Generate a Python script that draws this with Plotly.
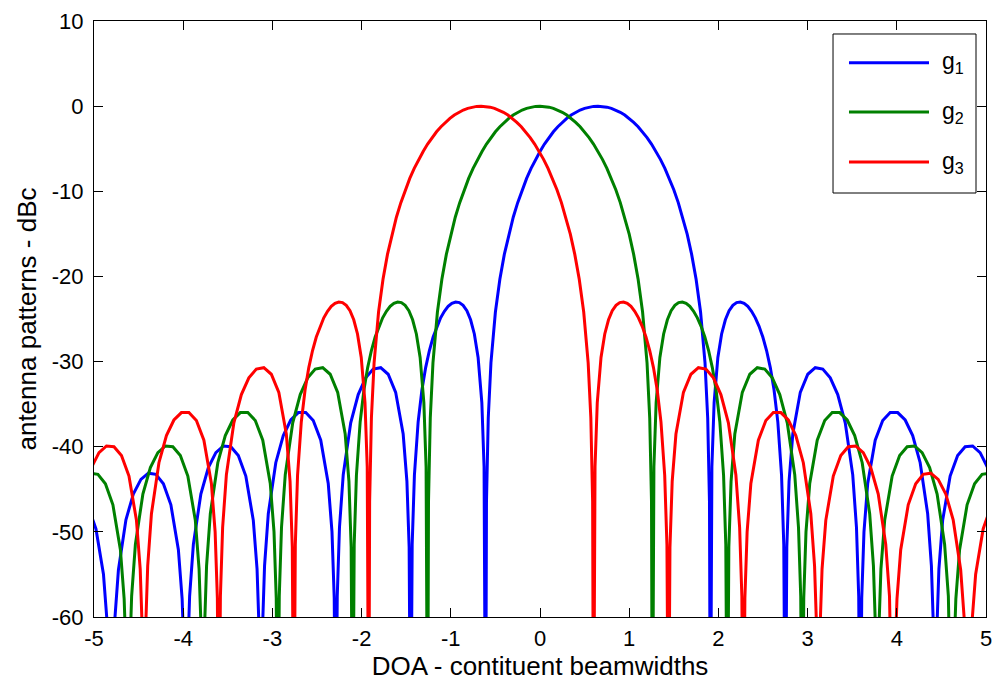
import plotly.graph_objects as go

# Beam pattern shape: offset from beam centre
# (constituent beamwidths) and level (dBc). Nulls fall below the -60 dB floor.
pattern_offset = [
    -5.796, -5.712, -5.628, -5.544, -5.502, -5.477, -5.460, -5.443, -5.418, -5.376,
    -5.292, -5.208, -5.124, -5.040, -4.956, -4.872, -4.788, -4.704, -4.662, -4.637,
    -4.620, -4.603, -4.578, -4.536, -4.452, -4.368, -4.284, -4.200, -4.116, -4.032,
    -3.948, -3.864, -3.822, -3.797, -3.780, -3.763, -3.738, -3.696, -3.612, -3.528,
    -3.444, -3.360, -3.276, -3.192, -3.108, -3.024, -2.982, -2.957, -2.940, -2.923,
    -2.898, -2.856, -2.772, -2.688, -2.604, -2.520, -2.436, -2.352, -2.268, -2.184,
    -2.142, -2.117, -2.100, -2.083, -2.058, -2.016, -1.974, -1.932, -1.890, -1.848,
    -1.806, -1.764, -1.722, -1.680, -1.638, -1.596, -1.554, -1.512, -1.470, -1.428,
    -1.386, -1.344, -1.302, -1.277, -1.260, -1.250, -1.230, -1.200, -1.150, -1.100,
    -1.050, -1.000, -0.950, -0.900, -0.850, -0.800, -0.750, -0.700, -0.650, -0.600,
    -0.550, -0.500, -0.450, -0.400, -0.350, -0.300, -0.250, -0.200, -0.150, -0.100,
    -0.050, 0.000,
    0.050, 0.100, 0.150, 0.200, 0.250, 0.300, 0.350, 0.400, 0.450, 0.500,
    0.550, 0.600, 0.650, 0.700, 0.750, 0.800, 0.850, 0.900, 0.950, 1.000,
    1.050, 1.100, 1.150, 1.200, 1.230, 1.250, 1.260, 1.277, 1.302, 1.344,
    1.386, 1.428, 1.470, 1.512, 1.554, 1.596, 1.638, 1.680, 1.722, 1.764,
    1.806, 1.848, 1.890, 1.932, 1.974, 2.016, 2.058, 2.083, 2.100, 2.117,
    2.142, 2.184, 2.268, 2.352, 2.436, 2.520, 2.604, 2.688, 2.772, 2.856,
    2.898, 2.923, 2.940, 2.957, 2.982, 3.024, 3.108, 3.192, 3.276, 3.360,
    3.444, 3.528, 3.612, 3.696, 3.738, 3.763, 3.780, 3.797, 3.822, 3.864,
    3.948, 4.032, 4.116, 4.200, 4.284, 4.368, 4.452, 4.536, 4.578, 4.603,
    4.620, 4.637, 4.662, 4.704, 4.788, 4.872, 4.956, 5.040, 5.124, 5.208,
    5.292, 5.376, 5.418, 5.443, 5.460, 5.477, 5.502, 5.544, 5.628, 5.712,
    5.796,
]
pattern_db = [
    -45.99, -47.13, -49.66, -54.97, -60.76, -68.60, -80.00, -68.49, -60.49, -54.44,
    -48.58, -45.52, -43.84, -43.11, -43.25, -44.35, -46.83, -52.10, -57.86, -65.69,
    -80.00, -65.56, -57.54, -51.46, -45.55, -42.44, -40.70, -39.91, -40.00, -41.04,
    -43.45, -48.65, -54.38, -62.18, -80.00, -62.02, -53.99, -47.87, -41.88, -38.69,
    -36.86, -35.99, -35.98, -36.92, -39.23, -44.32, -50.00, -57.77, -80.00, -57.56,
    -49.49, -43.31, -37.20, -33.87, -31.91, -30.88, -30.72, -31.49, -33.61, -38.51,
    -44.08, -51.79, -80.00, -51.50, -43.35, -37.07, -33.34, -30.71, -28.70, -27.12,
    -25.86, -24.86, -24.09, -23.52, -23.16, -23.00, -23.07, -23.40, -24.03, -25.09,
    -26.76, -29.51, -34.81, -42.36, -80.00, -46.44, -36.63, -30.16, -24.18, -20.34,
    -17.41, -15.04, -13.05, -11.33, -9.82, -8.49, -7.31, -6.25, -5.32, -4.45,
    -3.70, -3.01, -2.42, -1.90, -1.44, -1.04, -0.72, -0.46, -0.26, -0.12,
    -0.03, 0.00,
    -0.03, -0.12, -0.26, -0.46, -0.72, -1.04, -1.44, -1.90, -2.42, -3.01,
    -3.70, -4.45, -5.32, -6.25, -7.31, -8.49, -9.82, -11.33, -13.05, -15.04,
    -17.41, -20.34, -24.18, -30.16, -36.63, -46.44, -80.00, -42.36, -34.81, -29.51,
    -26.76, -25.09, -24.03, -23.40, -23.07, -23.00, -23.16, -23.52, -24.09, -24.86,
    -25.86, -27.12, -28.70, -30.71, -33.34, -37.07, -43.35, -51.50, -80.00, -51.79,
    -44.08, -38.51, -33.61, -31.49, -30.72, -30.88, -31.91, -33.87, -37.20, -43.31,
    -49.49, -57.56, -80.00, -57.77, -50.00, -44.32, -39.23, -36.92, -35.98, -35.99,
    -36.86, -38.69, -41.88, -47.87, -53.99, -62.02, -80.00, -62.18, -54.38, -48.65,
    -43.45, -41.04, -40.00, -39.91, -40.70, -42.44, -45.55, -51.46, -57.54, -65.56,
    -80.00, -65.69, -57.86, -52.10, -46.83, -44.35, -43.25, -43.11, -43.84, -45.52,
    -48.58, -54.44, -60.49, -68.49, -80.00, -68.60, -60.76, -54.97, -49.66, -47.13,
    -45.99,
]

# Beam centres (DOA, constituent beamwidths)
beam_names = ["g<sub>1</sub>", "g<sub>2</sub>", "g<sub>3</sub>"]
beam_centres = [0.65, 0.0, -0.66]

x_ticks = [-5, -4, -3, -2, -1, 0, 1, 2, 3, 4, 5]
y_ticks = [-60, -50, -40, -30, -20, -10, 0, 10]

colors = ["#0000ff", "#008000", "#ff0000"]
FONT = "Liberation Sans, Arial, Helvetica, sans-serif"

fig = go.Figure()
for name, centre, col in zip(beam_names, beam_centres, colors):
    fig.add_trace(go.Scatter(
        x=[o + centre for o in pattern_offset],
        y=pattern_db,
        mode="lines",
        name=name,
        line=dict(color=col, width=3),
        showlegend=False,
    ))

# Legend drawn as a boxed key (paper coordinates)
leg_x0, leg_x1 = 0.8285, 0.9888
leg_y0, leg_y1 = 0.7114, 0.9782
row_y = [0.9300, 0.8473, 0.7634]
fig.add_shape(type="rect", xref="paper", yref="paper",
              x0=leg_x0, x1=leg_x1, y0=leg_y0, y1=leg_y1,
              line=dict(color="black", width=1), fillcolor="white", layer="above")
for name, col, ry in zip(beam_names, colors, row_y):
    fig.add_shape(type="line", xref="paper", yref="paper",
                  x0=0.8464, x1=0.9361, y0=ry, y1=ry,
                  line=dict(color=col, width=3), layer="above")
    fig.add_annotation(xref="paper", yref="paper", x=0.9484, y=ry,
                       xanchor="left", yanchor="middle", text=name,
                       showarrow=False, font=dict(family=FONT, size=23, color="black"))

axis_common = dict(
    showline=True, linecolor="black", linewidth=1, mirror="ticks",
    ticks="inside", ticklen=9, tickwidth=1, tickcolor="black",
    showgrid=False, zeroline=False, automargin=False,
    tickfont=dict(family=FONT, size=22, color="black"),
)
fig.update_xaxes(range=[-5, 5], tickvals=x_ticks, ticktext=[str(v) for v in x_ticks],
                 title=dict(text="DOA - contituent beamwidths",
                            font=dict(family=FONT, size=26, color="black"), standoff=5),
                 ticklabelstandoff=2, **axis_common)
fig.update_yaxes(range=[-60, 10], tickvals=y_ticks, ticktext=[str(v) for v in y_ticks],
                 title=dict(text="antenna patterns - dBc",
                            font=dict(family=FONT, size=26, color="black"), standoff=7),
                 ticklabelstandoff=5, **axis_common)

fig.update_layout(
    width=997, height=690,
    margin=dict(l=94, r=11, t=21, b=73),
    paper_bgcolor="white", plot_bgcolor="white",
    font=dict(family=FONT, size=22, color="black"),
    showlegend=False,
)

fig.write_html("out.html", post_script="document.body.style.margin='0';",
               config={"displayModeBar": False})
